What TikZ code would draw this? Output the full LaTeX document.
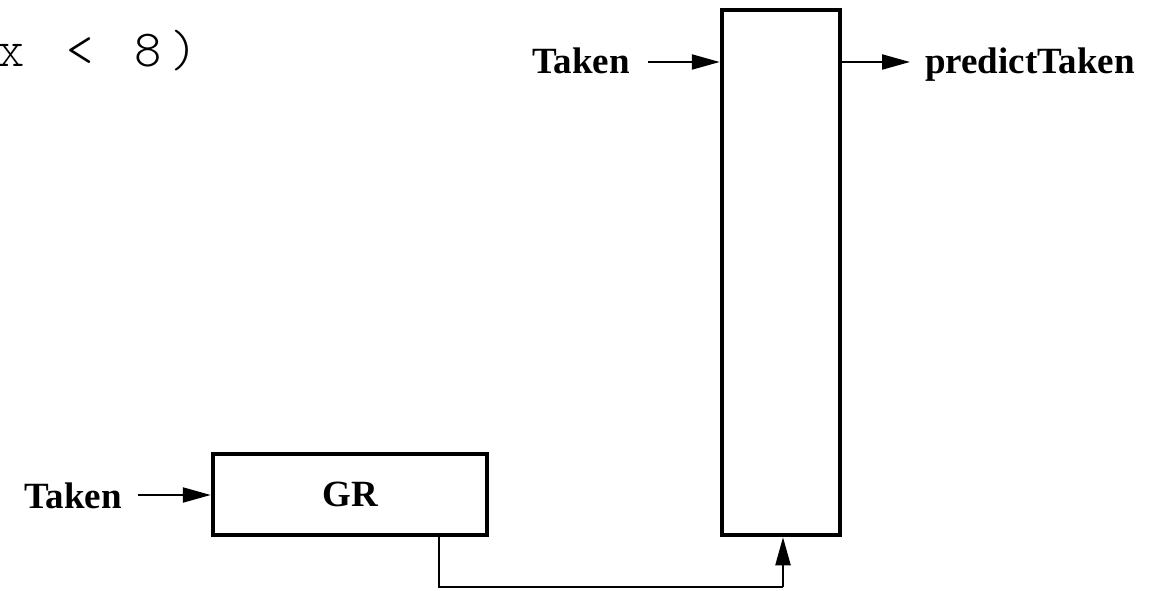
\documentclass[tikz,border=0pt]{standalone}
\usepackage{fontspec}
\setmainfont{Liberation Serif}
\newfontfamily\condfont[LetterSpace=16.7,WordSpace=1.15]{lmmonolt10-regular.otf}
\usetikzlibrary{arrows.meta}
\begin{document}
\begin{tikzpicture}[x=1pt,y=-1pt,
  block/.style={draw,line width=4.5pt,minimum width=#1,inner sep=0pt},
  lbl/.style={font=\fontsize{37}{40}\selectfont\bfseries,inner sep=0pt},
  tip/.style={-{Triangle[length=28pt,width=15pt]}},
  sig/.style={line width=2.2pt,tip},
  wire/.style={line width=2.2pt}]
\useasboundingbox (0,0) rectangle (1153,591);
% partial condition text at the top left
\node[anchor=base west,inner sep=0pt,font=\condfont\fontsize{52}{56}\selectfont]
  (cond) at (-2.6,67) {x < 8)};
% prediction table and global history register
\node[block=118pt,minimum height=525pt] (tbl) at (781,272.5) {};
\node[block=274pt,minimum height=81pt,font=\fontsize{37}{40}\selectfont\bfseries] (gr) at (350,494.5) {GR};
% labels
\node[lbl,anchor=base east] (takenT) at (630,74) {Taken};
\node[lbl,anchor=base west] (pred) at (925,74) {predictTaken};
\node[lbl,anchor=base east] (takenB) at (122,508) {Taken};
% signal inputs and outputs
\coordinate (tS) at (648,62);
\coordinate (pE) at (910,62);
\coordinate (bS) at (138,495);
\draw[sig] (tS) -- (tbl.west |- tS);
\draw[sig] (tbl.east |- pE) -- (pE);
\draw[sig] (bS) -- (gr.west |- bS);
% history register feeding the table index
\coordinate (turnL) at (439,587);
\coordinate (turnR) at (783,587);
\draw[wire] (gr.south -| turnL) -- (turnL) -- (turnR);
\draw[sig] (turnR) -- (tbl.south -| turnR);
\end{tikzpicture}
\end{document}
